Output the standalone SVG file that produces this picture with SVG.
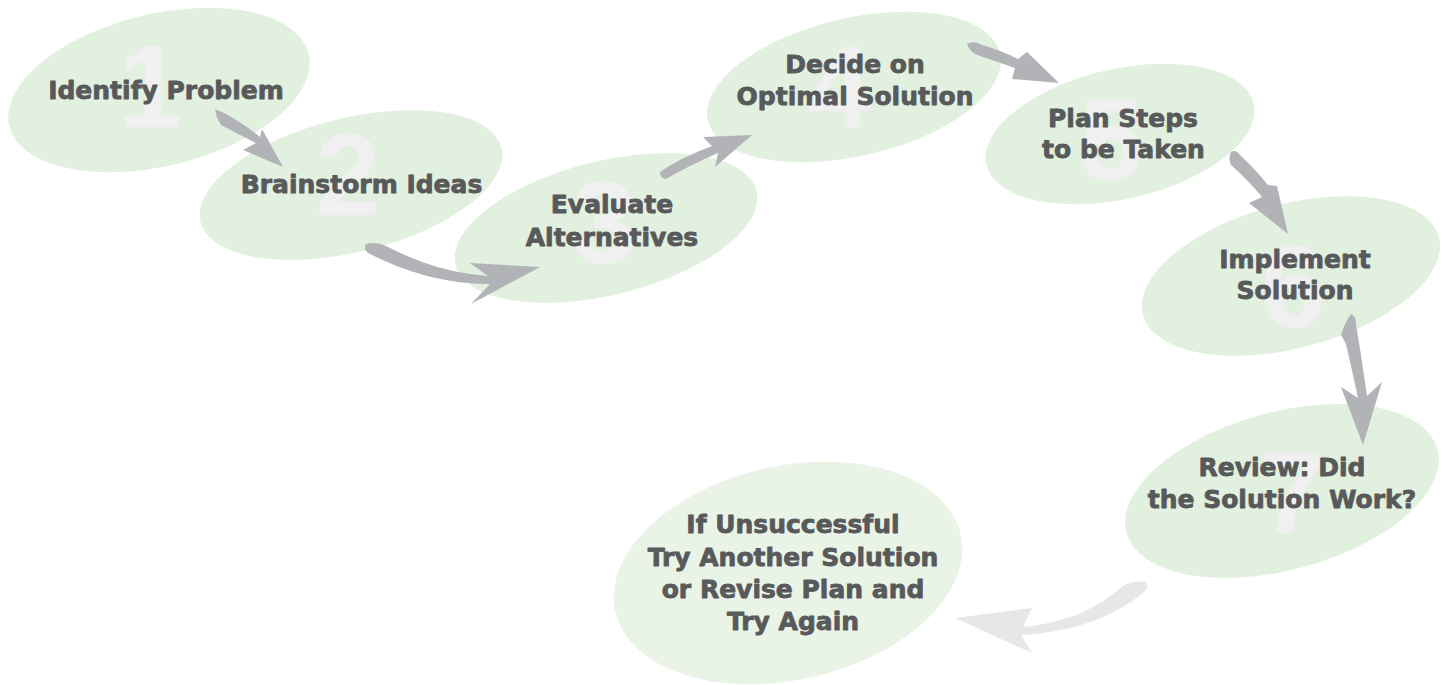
<svg xmlns="http://www.w3.org/2000/svg" width="1443" height="685" viewBox="0 0 1443 685">
<style>
.bg{fill:#e2f0df}
.bg8{fill:#e9f4e7}
.num{font-family:"Liberation Sans",Arial,sans-serif;font-weight:bold;font-size:116px;fill:#f0f0f0;text-anchor:middle}
.lbl{font-family:"DejaVu Sans","Liberation Sans",sans-serif;font-weight:bold;font-size:25px;fill:#58595b;stroke:#58595b;stroke-width:0.8px;stroke-linejoin:round;text-anchor:middle}
.arr{fill:#b1b3b6}
.arr7{fill:#e6e7e8}
</style>
<rect width="1443" height="685" fill="#ffffff"/>
<g id="node1">
<ellipse class="bg" cx="159" cy="90" rx="154" ry="76" transform="rotate(-13.5 159 90)"/>
<text class="num" x="150" y="127">1</text>
<text class="lbl" x="166" y="99">Identify Problem</text>
</g>
<g id="node2">
<ellipse class="bg" cx="351" cy="185" rx="155" ry="67" transform="rotate(-13.8 351 185)"/>
<text class="num" x="348" y="215">2</text>
<text class="lbl" x="361.5" y="193">Brainstorm Ideas</text>
</g>
<g id="node3">
<ellipse class="bg" cx="606" cy="228" rx="155" ry="67" transform="rotate(-13.8 606 228)"/>
<text class="num" x="604" y="263">3</text>
<text class="lbl" x="612" y="213">Evaluate</text>
<text class="lbl" x="612" y="246">Alternatives</text>
</g>
<g id="node4">
<ellipse class="bg" cx="854" cy="87" rx="150" ry="69" transform="rotate(-13 854 87)"/>
<text class="num" x="839" y="127">4</text>
<text class="lbl" x="855" y="73">Decide on</text>
<text class="lbl" x="855" y="105">Optimal Solution</text>
</g>
<g id="node5">
<ellipse class="bg" cx="1120" cy="134" rx="137" ry="65" transform="rotate(-12.8 1120 134)"/>
<text class="num" x="1111" y="180">5</text>
<text class="lbl" x="1123" y="127">Plan Steps</text>
<text class="lbl" x="1123.5" y="158">to be Taken</text>
</g>
<g id="node6">
<ellipse class="bg" cx="1291" cy="276" rx="153" ry="72" transform="rotate(-14.7 1291 276)"/>
<text class="num" x="1293" y="327">6</text>
<text class="lbl" x="1295" y="268">Implement</text>
<text class="lbl" x="1295" y="299">Solution</text>
</g>
<g id="node7">
<ellipse class="bg" cx="1282" cy="491" rx="161" ry="79" transform="rotate(-15 1282 491)"/>
<text class="num" x="1292" y="533">7</text>
<text class="lbl" x="1282" y="476">Review: Did</text>
<text class="lbl" x="1282" y="508">the Solution Work?</text>
</g>
<g id="node8">
<ellipse class="bg8" cx="788" cy="573" rx="177" ry="107" transform="rotate(-12.5 788 573)"/>
<text class="lbl" x="793" y="533">If Unsuccessful</text>
<text class="lbl" x="793" y="566">Try Another Solution</text>
<text class="lbl" x="793" y="598">or Revise Plan and</text>
<text class="lbl" x="793" y="630">Try Again</text>
</g>
<g id="connectors">
<path class="arr" d="M215,109 L224,113 Q243,123 260,137 L262,129 L283,167 L243,150 L256,143 Q238,134 221,125 Q216,118 215,109 Z"/>
<path class="arr" d="M366,244 Q376,241 386,246 C410,258 440,272 488,276 L470,263 L540,267 L471,304 L490,284 C445,284 405,272 368,253 Q363,249 366,244 Z"/>
<path class="arr" d="M660,172 Q680,158 712,146 L703,137 L752,135 L715,167 L718,153 Q690,165 666,179 Q660,178 660,172 Z"/>
<path class="arr" d="M967,44 Q974,40 982,45 Q1000,50 1018,59 L1027,52 L1059,83 L1012,79 L1015,68 Q998,62 980,56 Q970,53 967,44 Z"/>
<path class="arr" d="M1231,152 Q1236,149 1240,155 Q1256,170 1268,185 L1277,186 L1288,234 L1249,203 L1262,197 Q1248,180 1231,165 Q1228,158 1231,152 Z"/>
<path class="arr" d="M1351,314 Q1356,316 1356,324 Q1362,360 1367,396 L1382,382 L1363,445 L1341,387 L1358,398 Q1352,370 1346,344 L1341,335 Q1345,322 1351,314 Z"/>
<path class="arr7" d="M1123,586 Q1134,580 1146,582 Q1149,588 1144,592 C1118,614 1078,632 1021,635 L1032,653 L955,618 L1032,608 L1023,627 C1072,622 1100,606 1123,586 Z"/>
</g>
</svg>
